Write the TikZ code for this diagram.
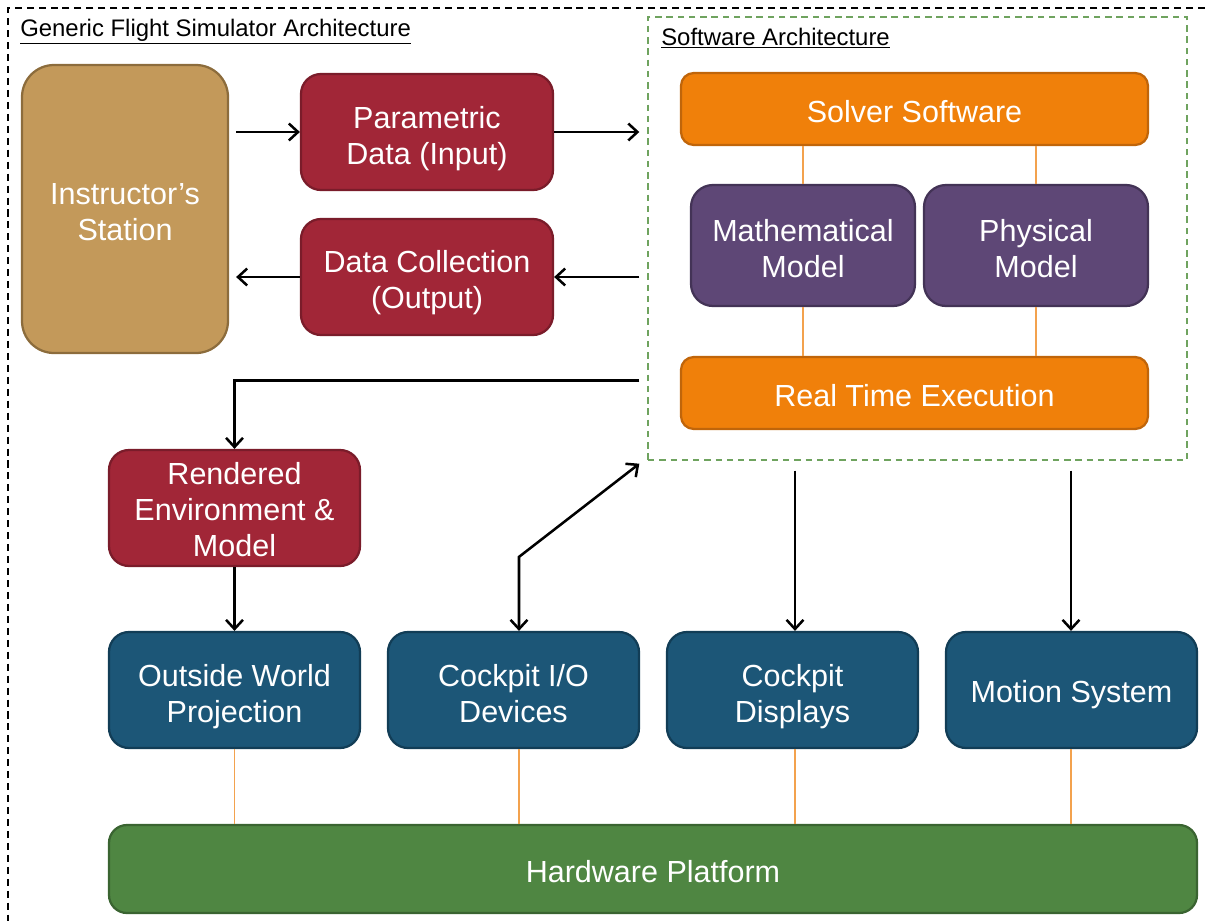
\documentclass[tikz,border=0pt]{standalone}
\usepackage{fontspec}
\setmainfont{Liberation Sans}
\usetikzlibrary{arrows.meta,calc}
\definecolor{tanF}{HTML}{C3995A}
\definecolor{tanD}{HTML}{8C6C3C}
\definecolor{redF}{HTML}{A12637}
\definecolor{redD}{HTML}{7A1C2A}
\definecolor{oraF}{HTML}{F0800A}
\definecolor{oraD}{HTML}{C0650A}
\definecolor{purF}{HTML}{5E4776}
\definecolor{purD}{HTML}{433356}
\definecolor{bluF}{HTML}{1C5677}
\definecolor{bluD}{HTML}{123D56}
\definecolor{grnF}{HTML}{4F8642}
\definecolor{grnD}{HTML}{3A6431}
\definecolor{oraL}{HTML}{F3A24E}
\definecolor{grnL}{HTML}{6FA35F}
\newcommand\boxfont{\fontsize{21.7}{25.6}\selectfont}
\newcommand\ttlfont{\fontsize{17}{20}\selectfont}
\begin{document}
\begin{tikzpicture}[x=0.025cm,y=-0.025cm,
  sz/.style 2 args={minimum width={#1*0.025cm}, minimum height={#2*0.025cm}},
  blk/.style={line width=1.6pt, inner sep=0pt},
  tx/.style={text=white, align=center, font=\boxfont, inner sep=0pt},
  conn/.style={line width=1.8pt, draw=black, -{Straight Barb[length=6.5pt,width=12pt,line width=1.8pt]}},
  conn2/.style={line width=1.8pt, draw=black, {Straight Barb[length=6.5pt,width=12pt,line width=1.8pt]}-{Straight Barb[length=6.5pt,width=12pt,line width=1.8pt]}},
  oline/.style={line width=1pt, draw=oraL},
  ttl/.style={font=\ttlfont, anchor=base west, inner sep=0pt}]
\useasboundingbox (0,0) rectangle (1205,921);
\draw[line width=0.9pt, dash pattern=on 5pt off 3.5pt] (1205,8) -- (8,8) -- (8,921);
\node[ttl] (gtitle) at (20,36) {\underline{Generic Flight Simulator Architecture}};
% software architecture box
\node[draw=grnL, line width=1pt, dash pattern=on 4.5pt off 3.5pt, sz={539}{443}, inner sep=0pt] (sw) at (917.5,238.5) {};
\node[ttl] (stitle) at (661,45) {\underline{Software Architecture}};
% nodes
\node[blk, fill=tanF, draw=tanD, rounded corners=0.8cm, sz={206}{288},
  label={[tx, yshift=-2.3pt]center:Instructor’s\\Station}] (inst) at (125,209) {};
\node[blk, fill=redF, draw=redD, rounded corners=0.5cm, sz={252}{116},
  label={[tx, yshift=-5pt]center:Parametric\\Data (Input)}] (par) at (427,132) {};
\node[blk, fill=redF, draw=redD, rounded corners=0.5cm, sz={252}{116},
  label={[tx, yshift=-4.3pt]center:Data Collection\\(Output)}] (dc) at (427,277) {};
\node[blk, fill=oraF, draw=oraD, rounded corners=0.32cm, sz={467}{72},
  label={[tx, yshift=-1.6pt]center:Solver Software}] (solver) at (914.5,109) {};
\node[blk, fill=purF, draw=purD, rounded corners=0.55cm, sz={224}{121},
  label={[tx, yshift=-2.3pt]center:Mathematical\\Model}] (math) at (803,245.5) {};
\node[blk, fill=purF, draw=purD, rounded corners=0.55cm, sz={224}{121},
  label={[tx, yshift=-2.3pt]center:Physical\\Model}] (phys) at (1036,245.5) {};
\node[blk, fill=oraF, draw=oraD, rounded corners=0.32cm, sz={467}{72},
  label={[tx, yshift=-2pt]center:Real Time Execution}] (rte) at (914.5,393) {};
\node[blk, fill=redF, draw=redD, rounded corners=0.5cm, sz={251}{116},
  label={[tx, yshift=-1.4pt]center:Rendered\\Environment \&\\Model}] (rend) at (234.5,508) {};
\node[blk, fill=bluF, draw=bluD, rounded corners=0.5cm, sz={251}{116},
  label={[tx, yshift=-5pt]center:Outside World\\Projection}] (ow) at (234.5,690) {};
\node[blk, fill=bluF, draw=bluD, rounded corners=0.5cm, sz={251}{116},
  label={[tx, yshift=-2.3pt]center:Cockpit I/O\\Devices}] (cio) at (513.5,690) {};
\node[blk, fill=bluF, draw=bluD, rounded corners=0.5cm, sz={251}{116},
  label={[tx, yshift=-5pt]center:Cockpit\\Displays}] (cd) at (792.5,690) {};
\node[blk, fill=bluF, draw=bluD, rounded corners=0.5cm, sz={251}{116},
  label={[tx, yshift=-3pt]center:Motion System}] (ms) at (1071.5,690) {};
\node[blk, fill=grnF, draw=grnD, rounded corners=0.45cm, sz={1088}{88},
  label={[tx, yshift=-1.5pt]center:Hardware Platform}] (hw) at (653,869) {};
\coordinate (xio) at (519,0);
\coordinate (xcd) at (795,0);
\coordinate (xms) at (1071,0);
% orange links
\draw[oline] (math.north |- solver.south) -- (math.north);
\draw[oline] (phys.north |- solver.south) -- (phys.north);
\draw[oline] (math.south) -- (math.south |- rte.north);
\draw[oline] (phys.south) -- (phys.south |- rte.north);
\draw[oline] (ow.south) -- (ow.south |- hw.north);
\draw[oline] (xio |- cio.south) -- (xio |- hw.north);
\draw[oline] (xcd |- cd.south) -- (xcd |- hw.north);
\draw[oline] (xms |- ms.south) -- (xms |- hw.north);
% arrows
\draw[conn] ($(inst.east |- par.west)+(7,0)$) -- (par.west);
\draw[conn] (par.east) -- ($(sw.west |- par.east)+(-8,0)$);
\draw[conn] ($(sw.west |- dc.east)+(-8,0)$) -- (dc.east);
\draw[conn] (dc.west) -- ($(inst.east |- dc.west)+(7,0)$);
\draw[conn] ($(sw.south west)+(-8,-80)$) -| (rend.north);
\draw[conn] (rend.south) -- (ow.north);
\draw[conn2] ($(sw.south west)+(-8,3)$) -- ($(xio |- cio.north)+(0,-74)$) -- (xio |- cio.north);
\draw[conn] ($(xcd |- sw.south)+(0,10)$) -- (xcd |- cd.north);
\draw[conn] ($(xms |- sw.south)+(0,10)$) -- (xms |- ms.north);
\end{tikzpicture}
\end{document}
